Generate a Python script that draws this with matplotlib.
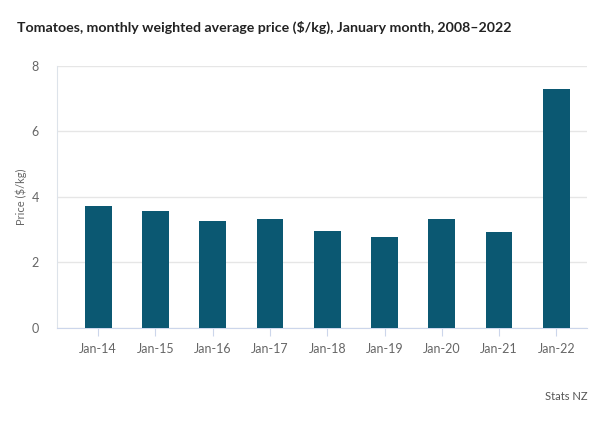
import matplotlib
matplotlib.use("Agg")
import matplotlib.pyplot as plt

categories = ["Jan-14", "Jan-15", "Jan-16", "Jan-17", "Jan-18", "Jan-19", "Jan-20", "Jan-21", "Jan-22"]
prices = [3.73, 3.57, 3.26, 3.33, 2.96, 2.78, 3.33, 2.93, 7.30]
y_ticks = [0, 2, 4, 6, 8]

plt.rcParams['font.family'] = ['Lato', 'DejaVu Sans']

fig = plt.figure(figsize=(6.0, 4.28), dpi=100)
ax = fig.add_axes([57/600, 1-327.7/428, (586.7-57)/600, (327.7-66)/428])

x = list(range(len(categories)))
ax.bar(x, prices, width=0.467, color="#0b5872", zorder=3)

ax.set_xlim(-0.72, 8.53)
ax.set_ylim(0, 8)
ax.set_yticks(y_ticks)
ax.set_yticklabels([str(v) for v in y_ticks])
ax.set_xticks(x)
ax.set_xticklabels(categories)

ax.grid(axis='y', color="#e6e6e6", linewidth=1, zorder=0)
for s in ['top', 'right']:
    ax.spines[s].set_visible(False)
ax.spines['left'].set_color("#dde3ea")
ax.spines['bottom'].set_color("#ccd6eb")
ax.tick_params(axis='y', length=0, labelsize=9, labelcolor="#666666", pad=13)
ax.tick_params(axis='x', length=6, color="#ccd6eb", labelsize=9, labelcolor="#666666", pad=5)
ax.set_ylabel("Price ($/kg)", fontsize=8, color="#666666")
ax.yaxis.set_label_coords(-30/529.7, 0.5)

fig.text(17/600, 1-27/428, "Tomatoes, monthly weighted average price ($/kg), January month, 2008\u20132022",
         fontsize=10.2, fontweight='bold', color="#222222", ha='left', va='center')
fig.text(588/600, 1-396/428, "Stats NZ", fontsize=8, color="#555555", ha='right', va='center')

fig.savefig("out.png", dpi=100)
